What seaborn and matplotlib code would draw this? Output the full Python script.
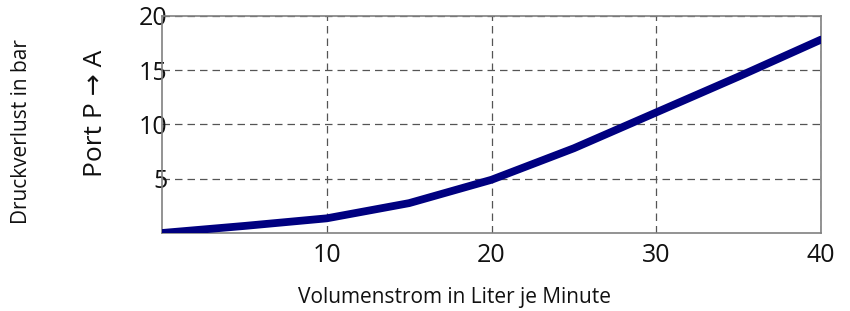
import numpy as np
import pandas as pd
import seaborn as sns
from matplotlib import pyplot as plt

# Druckverlust-Kennlinie Port P -> A
flow = [0, 5, 10, 15, 20, 25, 30, 35, 40]
pressure = [0.0, 0.65, 1.35, 2.75, 4.9, 7.8, 11.1, 14.4, 17.8]
x_ticks = [10, 20, 30, 40]
y_ticks = [5, 10, 15, 20]

sns.set_style("white")
plt.rcParams['font.family'] = ['Open Sans', 'DejaVu Sans']

df = pd.DataFrame({'flow': flow, 'pressure': pressure})

fig = plt.figure(figsize=(8.5, 3.11), dpi=100)
ax = fig.add_axes([0.1906, 0.2508, 0.7753, 0.6987])

sns.lineplot(data=df, x='flow', y='pressure', ax=ax, color='#000080',
             linewidth=5.6, solid_capstyle='round', solid_joinstyle='round', zorder=3)

ax.set_xlim(0, 40)
ax.set_ylim(0, 20)
ax.set_xticks(x_ticks)
ax.set_yticks(y_ticks)
ax.tick_params(axis='both', length=0, labelsize=18, colors='#111111')
ax.tick_params(axis='y', pad=-4)
ax.tick_params(axis='x', pad=7)

ax.grid(True, linestyle=(0, (6, 4)), color='#555555', linewidth=0.9)
for s in ax.spines.values():
    s.set_color('#808080')
    s.set_linewidth(1.2)

ax.set_xlabel('')
ax.set_ylabel('')

# Achsentitel
fig.text(95 / 850, 1 - 113 / 311, 'Port P \u2192 A', rotation=90, fontsize=19,
         ha='center', va='center', color='#111111')
fig.text(22 / 850, 1 - 132 / 311, 'Druckverlust in bar', rotation=90, fontsize=15,
         ha='center', va='center', color='#111111')
fig.text(455 / 850, 1 - 298 / 311, 'Volumenstrom in Liter je Minute', fontsize=15,
         ha='center', va='center', color='#111111')

fig.savefig('out.png', dpi=100)
